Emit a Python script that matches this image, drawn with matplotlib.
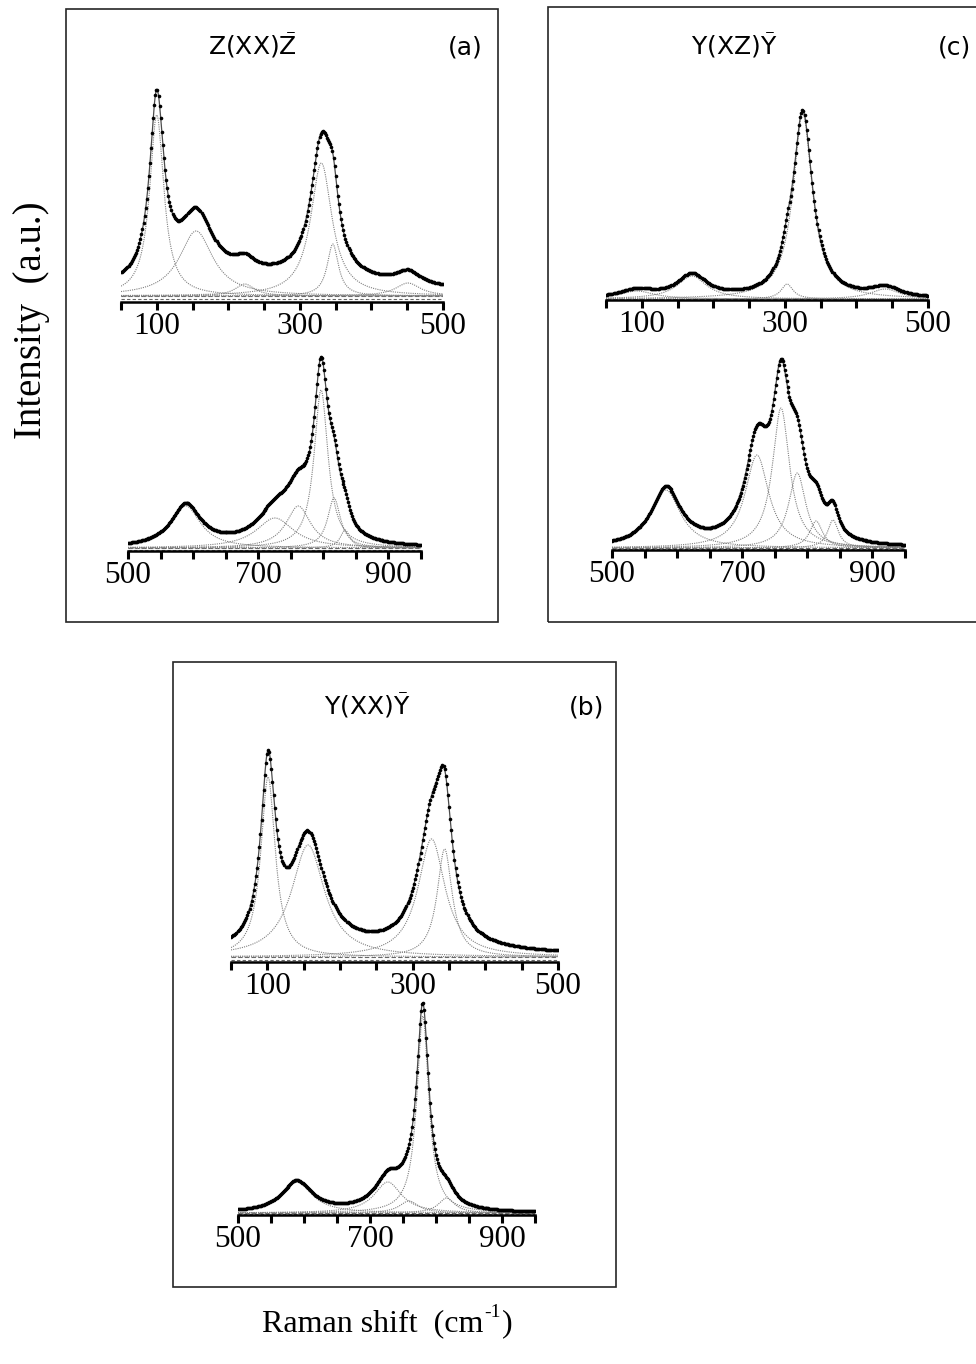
import numpy as np
import matplotlib
matplotlib.use("Agg")
import matplotlib.pyplot as plt
from matplotlib.patches import Rectangle
from matplotlib.ticker import FixedLocator, MultipleLocator

plt.rcParams['font.family'] = 'Liberation Serif'
plt.rcParams['mathtext.fontset'] = 'custom'
plt.rcParams['mathtext.rm'] = 'Liberation Serif'
plt.rcParams['mathtext.sf'] = 'DejaVu Sans'

# Fitted Lorentzian bands: centre (cm-1), height, FWHM (cm-1).
# Offset = level of the fit baseline, bg = broad background band [centre, height, FWHM].

# (a) Z(XX)Z
a_low_centres = [100, 155, 223, 330, 346, 451]
a_low_heights = [181, 65, 12, 133, 52, 13]
a_low_widths = [24, 57, 33, 36, 19, 42]
a_low_offset = 6
a_low_bg = [260, 16, 450]

a_high_centres = [589, 726, 762, 797, 817, 834]
a_high_heights = [42, 30, 42, 158, 50, 18]
a_high_widths = [55, 70, 46, 26, 24, 18]
a_high_offset = 3
a_high_bg = [700, 0, 100]

# (c) Y(XZ)Y
c_low_centres = [93, 170, 303, 325, 440]
c_low_heights = [8, 23, 15, 185, 10]
c_low_widths = [60, 50, 20, 33, 50]
c_low_offset = 1
c_low_bg = [300, 0, 100]

c_high_centres = [583, 723, 760, 785, 814, 840]
c_high_heights = [58, 93, 140, 75, 27, 28]
c_high_widths = [55, 44, 32, 32, 24, 20]
c_high_offset = 2
c_high_bg = [700, 0, 100]

# (b) Y(XX)Y
b_low_centres = [101, 156, 326, 344]
b_low_heights = [180, 112, 118, 108]
b_low_widths = [24, 55, 45, 25]
b_low_offset = 5
b_low_bg = [300, 5, 500]

b_high_centres = [589, 727, 759, 780, 816]
b_high_heights = [31, 31, 12, 197, 15]
b_high_widths = [56, 50, 35, 22, 30]
b_high_offset = 2
b_high_bg = [700, 0, 100]

low_labels = [100, 300, 500]
high_labels = [500, 700, 900]

W, H = 976, 1364
AX_H = 230

fig = plt.figure(figsize=(W / 100, H / 100), dpi=100)


def lorentz(x, c, h, w):
    return h / (1.0 + ((x - c) / (0.5 * w)) ** 2)


def make_axes(x0, x1, base, lo, hi, labels):
    # x0, x1, base in pixels from the top-left corner of the figure
    ax = fig.add_axes([x0 / W, 1 - base / H, (x1 - x0) / W, AX_H / H])
    ax.set_xlim(lo, hi)
    ax.set_ylim(0, AX_H)
    ax.patch.set_alpha(0)
    for side in ['left', 'right', 'top']:
        ax.spines[side].set_visible(False)
    ax.spines['bottom'].set_linewidth(1.8)
    ax.set_yticks([])
    ax.xaxis.set_major_locator(FixedLocator(labels))
    ax.xaxis.set_minor_locator(MultipleLocator(50))
    ax.tick_params(axis='x', which='both', direction='out', length=6,
                   width=2.2, color='k', labelsize=22.5, pad=1)
    return ax


def draw_spectrum(ax, lo, hi, centres, heights, widths, offset, bg):
    x = np.arange(lo, hi + 0.01, 0.5)
    comps = [lorentz(x, c, h, w) for c, h, w in zip(centres, heights, widths)]
    total = offset + lorentz(x, *bg) + np.sum(comps, axis=0)
    ax.axhline(offset, color='0.4', lw=0.8, ls=(0, (4, 2)))
    ax.axhline(offset * 0.5, color='0.4', lw=0.8, ls=(0, (3, 2)))
    for comp in comps:
        ax.plot(x, offset + comp, color='0.5', lw=0.8, ls=(0, (1, 1)))
    ax.plot(x, total, color='0.3', lw=0.9)
    ax.plot(x[::3], total[::3], 'o', color='k', ms=2.6, mew=0)


# (a) upper and lower spectra
ax = make_axes(121, 443, 302, 50, 500, low_labels)
draw_spectrum(ax, 50, 500, a_low_centres, a_low_heights, a_low_widths, a_low_offset, a_low_bg)
ax = make_axes(128, 420.5, 551, 500, 950, high_labels)
draw_spectrum(ax, 500, 950, a_high_centres, a_high_heights, a_high_widths, a_high_offset, a_high_bg)

# (c)
ax = make_axes(606, 928, 300, 50, 500, low_labels)
draw_spectrum(ax, 50, 500, c_low_centres, c_low_heights, c_low_widths, c_low_offset, c_low_bg)
ax = make_axes(612, 904.5, 550, 500, 950, high_labels)
draw_spectrum(ax, 500, 950, c_high_centres, c_high_heights, c_high_widths, c_high_offset, c_high_bg)

# (b)
ax = make_axes(231, 558, 962, 50, 500, low_labels)
draw_spectrum(ax, 50, 500, b_low_centres, b_low_heights, b_low_widths, b_low_offset, b_low_bg)
ax = make_axes(238, 535, 1215, 500, 950, high_labels)
draw_spectrum(ax, 500, 950, b_high_centres, b_high_heights, b_high_widths, b_high_offset, b_high_bg)

# frames around the three panels
for x0, y0, x1, y1 in [(66, 9, 498, 622), (548, 7, 1000, 622), (173, 662, 616, 1287)]:
    fig.patches.append(Rectangle((x0 / W, 1 - y1 / H), (x1 - x0) / W, (y1 - y0) / H,
                                 transform=fig.transFigure, fill=False,
                                 edgecolor='0.15', lw=1.2))

# panel titles
title_kw = dict(fontsize=18, family='DejaVu Sans', ha='center', va='center')
fig.text(252 / W, 1 - 45 / H, r'Z(XX)$\bar{\mathsf{Z}}$', **title_kw)
fig.text(465 / W, 1 - 47 / H, '(a)', **title_kw)
fig.text(734 / W, 1 - 45 / H, r'Y(XZ)$\bar{\mathsf{Y}}$', **title_kw)
fig.text(954 / W, 1 - 48 / H, '(c)', **title_kw)
fig.text(367 / W, 1 - 705 / H, r'Y(XX)$\bar{\mathsf{Y}}$', **title_kw)
fig.text(587 / W, 1 - 707 / H, '(b)', **title_kw)

fig.text(32 / W, 1 - 320 / H, 'Intensity  (a.u.)', rotation=90,
         fontsize=28, ha='center', va='center')

# x label built from pieces so the superscript keeps a plain hyphen
renderer = fig.canvas.get_renderer()
base_y = 1 - 1331 / H
t1 = fig.text(262 / W, base_y, 'Raman shift  (cm', fontsize=23, va='baseline')
x_end = t1.get_window_extent(renderer).x1
t2 = fig.text((x_end + 1) / W, base_y + 14 / H, '-1', fontsize=14, va='baseline')
x_end = t2.get_window_extent(renderer).x1
fig.text((x_end + 1) / W, base_y, ')', fontsize=23, va='baseline')

fig.savefig('out.png', dpi=100)
